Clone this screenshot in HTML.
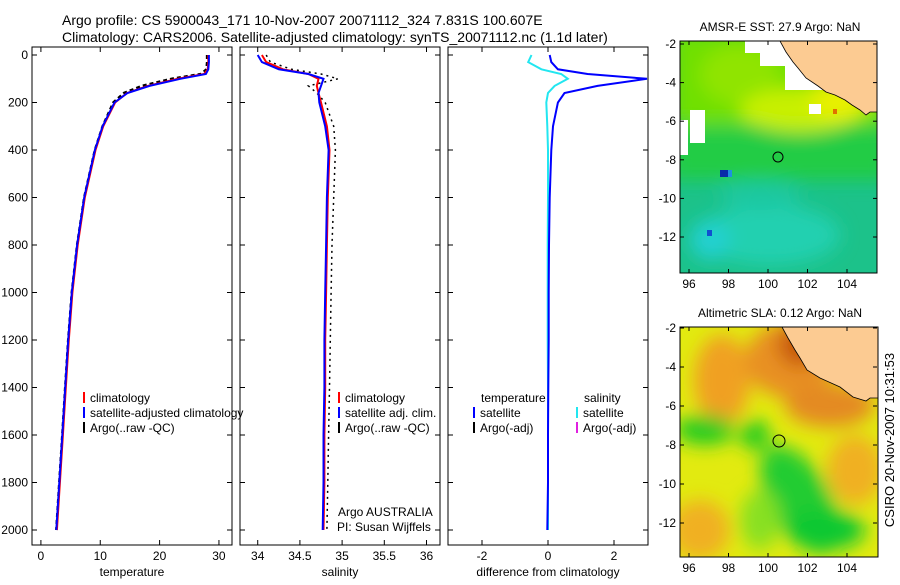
<!DOCTYPE html>
<html><head><meta charset="utf-8">
<style>
body{margin:0;background:#fff;}
svg text{font-family:"Liberation Sans",sans-serif;fill:#000;}
</style></head>
<body>
<svg id="fig" width="900" height="580" viewBox="0 0 900 580" xmlns="http://www.w3.org/2000/svg">
<defs>
<filter id="blur" x="-50%" y="-50%" width="200%" height="200%"><feGaussianBlur stdDeviation="9"/></filter>
<clipPath id="m1"><rect x="680" y="41" width="197" height="232"/></clipPath>
<clipPath id="m2"><rect x="680" y="327" width="198" height="230"/></clipPath>
<clipPath id="p1"><rect x="32" y="47" width="200" height="498"/></clipPath>
<clipPath id="p2"><rect x="240" y="47" width="200" height="498"/></clipPath>
<clipPath id="p3"><rect x="448" y="47" width="200" height="498"/></clipPath>
</defs>
<text x="62" y="25" font-size="14">Argo profile: CS 5900043_171 10-Nov-2007 20071112_324 7.831S 100.607E</text>
<text x="62" y="42" font-size="14">Climatology: CARS2006. Satellite-adjusted climatology: synTS_20071112.nc (1.1d later)</text>

<!-- Map 1: SST -->
<g>
<text x="780" y="31" font-size="12" text-anchor="middle">AMSR-E SST: 27.9 Argo: NaN</text>
<g clip-path="url(#m1)">
<rect x="680" y="41" width="197" height="232" fill="#1cc28a"/>
<g filter="url(#blur)">
<rect x="670" y="30" width="220" height="105" fill="#70e000"/>
<rect x="670" y="125" width="220" height="55" fill="#22cc44"/>
<ellipse cx="740" cy="75" rx="40" ry="30" fill="#90e400"/>
<ellipse cx="800" cy="110" rx="60" ry="22" fill="#c8f000"/>
<ellipse cx="840" cy="100" rx="30" ry="20" fill="#e8f000"/>
<ellipse cx="770" cy="235" rx="70" ry="30" fill="#22d0b0"/>
<ellipse cx="760" cy="195" rx="40" ry="15" fill="#1cc8a0"/>
<ellipse cx="710" cy="240" rx="20" ry="20" fill="#20d0d0"/>
</g>
<rect x="745" y="41" width="45" height="12" fill="#fff"/>
<rect x="760" y="41" width="40" height="25" fill="#fff"/>
<rect x="785" y="55" width="45" height="35" fill="#fff"/>
<rect x="690" y="110" width="15" height="33" fill="#fff"/>
<rect x="680" y="120" width="8" height="35" fill="#fff"/>
<rect x="692" y="112" width="12" height="10" fill="#fff"/>
<rect x="809" y="104" width="12" height="10" fill="#fff"/>
<rect x="720" y="170" width="8" height="7" fill="#0a2aa8"/>
<rect x="728" y="170" width="4" height="7" fill="#2090e0"/>
<rect x="707" y="230" width="5" height="6" fill="#1050d0"/>
<rect x="833" y="109" width="4" height="5" fill="#e07000"/>
<polygon points="780,41 786,52 793,62 798,68 806,78 818,86 826,92 835,95 845,100 852,105 860,110 866,115 870,112 877,112 877,41" fill="#fccb92" stroke="#000" stroke-width="0.8"/>
<circle cx="778" cy="157" r="5" fill="none" stroke="#000" stroke-width="1"/>
</g>
<rect x="680" y="41" width="197" height="232" fill="none" stroke="#000"/>
</g>

<!-- Map 2: SLA -->
<g>
<text x="780" y="317" font-size="12" text-anchor="middle">Altimetric SLA: 0.12 Argo: NaN</text>
<g clip-path="url(#m2)">
<rect x="680" y="327" width="198" height="230" fill="#e2ea10"/>
<g filter="url(#blur)">
<ellipse cx="722" cy="380" rx="28" ry="45" fill="#f0a020"/>
<ellipse cx="790" cy="360" rx="45" ry="38" fill="#e89020"/>
<ellipse cx="830" cy="405" rx="45" ry="22" fill="#e48a20"/>
<ellipse cx="800" cy="345" rx="22" ry="22" fill="#c85a10"/>
<ellipse cx="700" cy="530" rx="30" ry="30" fill="#f0b020"/>
<ellipse cx="855" cy="470" rx="28" ry="35" fill="#f0b020"/>
<ellipse cx="705" cy="430" rx="30" ry="15" fill="#22cc22"/>
<ellipse cx="755" cy="435" rx="15" ry="15" fill="#22cc22"/>
<ellipse cx="800" cy="500" rx="30" ry="60" fill="#22cc33" transform="rotate(-30 800 500)"/>
<ellipse cx="825" cy="530" rx="40" ry="20" fill="#11c833"/>
<ellipse cx="760" cy="520" rx="20" ry="30" fill="#88e020"/>
</g>
<polygon points="782,327 788,338 795,350 800,358 807,370 820,378 840,387 853,397 866,401 870,398 878,398 878,327" fill="#fccb92" stroke="#000" stroke-width="0.8"/>
<circle cx="779" cy="441" r="6" fill="none" stroke="#000" stroke-width="1"/>
</g>
<rect x="680" y="327" width="198" height="230" fill="none" stroke="#000"/>
</g>

<text x="894" y="440" font-size="13" text-anchor="middle" transform="rotate(-90 894 440)">CSIRO 20-Nov-2007 10:31:53</text>

<g id="panels"></g>
</svg>
<script>
// depth grid and profile data
const depths = [0,30,60,80,100,130,160,200,300,400,600,800,1000,1200,1400,1600,1800,2000];
const tempClim = [28.2,28.2,28.1,27.5,23,18,14.5,12.5,10.5,9.2,7.4,6.2,5.3,4.7,4.2,3.7,3.2,2.7];
const tempSat  = [28.3,28.3,28.2,27.8,23.5,18.3,14.6,12.4,10.4,9.1,7.3,6.1,5.2,4.6,4.1,3.6,3.1,2.6];
const tempArgo = [28.0,28.0,27.9,27.0,22,17,14,12.2,10.4,9.1,7.3,6.1,5.2,4.6,4.1,3.6,3.1,2.6];
const salClim  = [34.05,34.1,34.3,34.6,34.72,34.7,34.72,34.75,34.82,34.85,34.83,34.82,34.81,34.8,34.8,34.79,34.79,34.78];
const salSat   = [34.0,34.05,34.25,34.6,34.78,34.75,34.72,34.73,34.8,34.84,34.82,34.81,34.8,34.79,34.79,34.78,34.78,34.77];
const salArgo  = [34.1,34.15,34.4,34.75,34.95,34.6,34.7,34.8,34.9,34.92,34.9,34.88,34.87,34.86,34.85,34.84,34.83,34.82];
const tDiff    = [0.05,0.1,0.3,1.2,3.0,1.5,0.5,0.3,0.15,0.1,0.05,0.03,0.02,0.02,0.01,0.0,0.0,-0.02];
const sDiff    = [-0.5,-0.6,-0.2,0.4,0.6,0.2,0.0,-0.05,-0.02,0.0,0.0,-0.01,-0.01,-0.01,0.0,0.0,0.0,0.0];
const depthTicks = [0,200,400,600,800,1000,1200,1400,1600,1800,2000];
const tempTicks = [0,10,20,30];
const salTicks = [34,34.5,35,35.5,36];
const diffTicks = [-2,0,2];

const NS="http://www.w3.org/2000/svg";
const root=document.getElementById('panels');
const yOf=d=>55+d*(475/2000);
function mk(tag,attrs,parent){const e=document.createElementNS(NS,tag);for(const k in attrs)e.setAttribute(k,attrs[k]);(parent||root).appendChild(e);return e;}

function panel(px,name,xmin,xmax,xTicks,xlabel,clip,showY){
  const g=mk('g',{});
  
  
  const xOf=v=>px+(v-xmin)/(xmax-xmin)*200;
  const box=mk('rect',{x:px,y:47,width:200,height:498,fill:'none',stroke:'#000'},g);
  
  
  xTicks.forEach(t=>{
    const x=xOf(t);
    mk('line',{x1:x,x2:x,y1:545,y2:540,stroke:'#000'},g);
    mk('line',{x1:x,x2:x,y1:47,y2:52,stroke:'#000'},g);
    const tx=mk('text',{x:x,y:560,'font-size':12,'text-anchor':'middle'},g);
    tx.textContent=t;
    
    
  });
  depthTicks.forEach(d=>{
    const y=yOf(d);
    mk('line',{x1:px,x2:px+5,y1:y,y2:y,stroke:'#000'},g);
    mk('line',{x1:px+200,x2:px+195,y1:y,y2:y,stroke:'#000'},g);
    if(showY){
      const tx=mk('text',{x:px-4,y:y+4,'font-size':12,'text-anchor':'end'},g);
      tx.textContent=d;
      
      
    }
  });
  const xl=mk('text',{x:px+100,y:576,'font-size':12,'text-anchor':'middle'},g);
  xl.textContent=xlabel;
  
  
  const cg=mk('g',{'clip-path':'url(#'+clip+')'},g);
  return {xOf,cg,g};
}
function line(p,vals,color,w,dash,name){
  const pts=vals.map((v,i)=>p.xOf(v).toFixed(1)+','+yOf(depths[i]).toFixed(1)).join(' ');
  const e=mk('polyline',{points:pts,fill:'none',stroke:color,'stroke-width':w},p.cg);
  if(dash)e.setAttribute('stroke-dasharray',dash);
  
  
}
function legend(g,x,y,color,label,name){
  mk('line',{x1:x,x2:x,y1:y-10,y2:y+1,stroke:color,'stroke-width':2},g);
  const t=mk('text',{x:x+6,y:y,'font-size':12},g);
  t.textContent=label;
  
  
}

const p1=panel(32,'temperature-panel',-1.5,32.2,tempTicks,'temperature','p1',true);
line(p1,tempArgo,'#000',2.5,'4,3','temp-argo-line');
line(p1,tempClim,'#f00',2,null,'temp-climatology-line');
line(p1,tempSat,'#00f',2,null,'temp-satellite-line');
legend(p1.g,84,402,'#f00','climatology','legend-climatology');
legend(p1.g,84,417,'#00f','satellite-adjusted climatology','legend-satellite');
legend(p1.g,84,432,'#000','Argo(..raw -QC)','legend-argo');

const p2=panel(240,'salinity-panel',33.79,36.16,salTicks,'salinity','p2',false);
line(p2,salArgo,'#000',1.5,'2,4','sal-argo-line');
line(p2,salClim,'#f00',2,null,'sal-climatology-line');
line(p2,salSat,'#00f',2,null,'sal-satellite-line');
legend(p2.g,339,402,'#f00','climatology','legend-sal-climatology');
legend(p2.g,339,417,'#00f','satellite adj. clim.','legend-sal-satellite');
legend(p2.g,339,432,'#000','Argo(..raw -QC)','legend-sal-argo');
const a1=mk('text',{x:338,y:516,'font-size':12},p2.g);a1.textContent='Argo AUSTRALIA';


const a2=mk('text',{x:337,y:531,'font-size':12},p2.g);a2.textContent='PI: Susan Wijffels';



const p3=panel(448,'difference-panel',-3.03,3.03,diffTicks,'difference from climatology','p3',false);
line(p3,sDiff,'#22e6f0',2,null,'sal-diff-line');
line(p3,tDiff,'#00f',2,null,'temp-diff-line');
const lt=mk('text',{x:481,y:402,'font-size':12},p3.g);lt.textContent='temperature';


const ls=mk('text',{x:584,y:402,'font-size':12},p3.g);ls.textContent='salinity';


legend(p3.g,474,417,'#00f','satellite','legend-diff-temp-satellite');
legend(p3.g,474,432,'#000','Argo(-adj)','legend-diff-temp-argo');
legend(p3.g,577,417,'#22e6f0','satellite','legend-diff-sal-satellite');
legend(p3.g,577,432,'#e020e0','Argo(-adj)','legend-diff-sal-argo');

// map axes ticks
const lonTicks=[96,98,100,102,104];
const latTicks=[-2,-4,-6,-8,-10,-12];
function mapAxes(y0,y1,latY){
  lonTicks.forEach(l=>{
    const x=689+(l-96)*19.75;
    mk('line',{x1:x,x2:x,y1:y1,y2:y1-4,stroke:'#000'});
    mk('line',{x1:x,x2:x,y1:y0,y2:y0+4,stroke:'#000'});
    const t=mk('text',{x:x,y:y1+15,'font-size':12,'text-anchor':'middle'});t.textContent=l;
    
    
  });
  latTicks.forEach(l=>{
    const y=latY(l);
    mk('line',{x1:680,x2:684,y1:y,y2:y,stroke:'#000'});
    mk('line',{x1:877,x2:873,y1:y,y2:y,stroke:'#000'});
    const t=mk('text',{x:676,y:y+4,'font-size':12,'text-anchor':'end'});t.textContent=l;
    
    
  });
}
mapAxes(41,273,l=>44+(-2-l)*19.3);
mapAxes(327,557,l=>328+(-2-l)*19.5);
</script>
</body></html>
